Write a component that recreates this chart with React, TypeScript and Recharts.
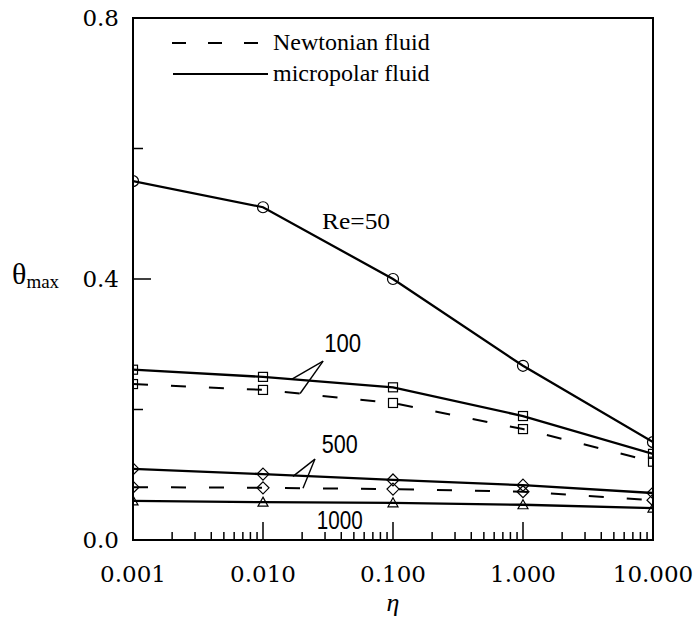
import React from 'react';
import {
  ComposedChart,
  Line,
  XAxis,
  YAxis,
  ReferenceArea,
  ReferenceLine,
  ReferenceDot,
  Legend
} from 'recharts';

// eta (log axis) and theta_max readings
const eta = [0.001, 0.01, 0.1, 1, 10];
const micro50 = [0.55, 0.51, 0.4, 0.267, 0.15];
const micro100 = [0.261, 0.25, 0.234, 0.19, 0.132];
const newt100 = [0.239, 0.23, 0.21, 0.17, 0.12];
const micro500 = [0.109, 0.101, 0.092, 0.084, 0.072];
const newt500 = [0.081, 0.08, 0.078, 0.074, 0.061];
const micro1000 = [0.06, 0.058, 0.057, 0.054, 0.049];

const xTicks = [0.001, 0.01, 0.1, 1, 10];
const xTickLabels = ['0.001', '0.010', '0.100', '1.000', '10.000'];
const yTicks = [0, 0.2, 0.4, 0.6, 0.8];
const yTickLabels = ['0.0', '', '0.4', '', '0.8'];

// curve labels and leader lines (data coordinates)
const curveLabels = [
  { text: 'Re=50', x: 0.052, y: 0.49, serif: true, len: 68 },
  { text: '100', x: 0.041, y: 0.302, serif: false, len: 37 },
  { text: '500', x: 0.039, y: 0.147, serif: false, len: 36 },
  { text: '1000', x: 0.039, y: 0.031, serif: false, len: 46 }
];
const leaders = [
  [{ x: 0.029, y: 0.274 }, { x: 0.0167, y: 0.2465 }],
  [{ x: 0.029, y: 0.274 }, { x: 0.0193, y: 0.2245 }],
  [{ x: 0.0251, y: 0.124 }, { x: 0.017, y: 0.0975 }],
  [{ x: 0.0251, y: 0.124 }, { x: 0.0203, y: 0.0793 }]
];

const data = eta.map((e, i) => ({
  eta: e,
  micro50: micro50[i],
  micro100: micro100[i],
  newt100: newt100[i],
  micro500: micro500[i],
  newt500: newt500[i],
  micro1000: micro1000[i]
}));

const minorX = xTicks.slice(0, -1).flatMap((d) => [2, 3, 4, 5, 6, 7, 8, 9].map((k) => d * k));
const allXTicks = [...xTicks, ...minorX];

const SERIF = '"Liberation Serif", "Times New Roman", serif';
const TICKFONT = '"DejaVu Serif", serif';
const SANS = '"Liberation Sans", Arial, sans-serif';

const XTick = (props: any) => {
  const { x, y, payload } = props;
  const i = xTicks.indexOf(payload.value);
  const major = i >= 0;
  return (
    <g>
      <line x1={x} x2={x} y1={y} y2={y - (major ? 18 : 8)} stroke="#000" strokeWidth={1.5} />
      {major && (
        <text x={x} y={y + 42} textAnchor="middle" fontFamily={TICKFONT} fontSize={23} fill="#000">
          {xTickLabels[i]}
        </text>
      )}
    </g>
  );
};

const YTick = (props: any) => {
  const { x, y, payload } = props;
  const i = yTicks.indexOf(payload.value);
  const label = yTickLabels[i];
  return (
    <g>
      <line x1={x} x2={x + (label ? 18 : 10)} y1={y} y2={y} stroke="#000" strokeWidth={1.5} />
      {label && (
        <text x={x - 14} y={y + 8} textAnchor="end" fontFamily={TICKFONT} fontSize={23} fill="#000">
          {label}
        </text>
      )}
    </g>
  );
};

const makeDot = (shape: string) => (p: any) => {
  const { cx, cy, index } = p;
  const s = { fill: 'none', stroke: '#000', strokeWidth: 1.2 };
  if (shape === 'circle') return <circle key={index} cx={cx} cy={cy} r={5.5} {...s} />;
  if (shape === 'square') return <rect key={index} x={cx - 4.5} y={cy - 4.5} width={9} height={9} {...s} />;
  if (shape === 'diamond')
    return <polygon key={index} points={`${cx},${cy - 6} ${cx + 6},${cy} ${cx},${cy + 6} ${cx - 6},${cy}`} {...s} />;
  return <polygon key={index} points={`${cx},${cy - 5} ${cx + 5},${cy + 4} ${cx - 5},${cy + 4}`} {...s} />;
};

const CurveLabel = (props: any) => {
  const { viewBox, text, serif, len } = props;
  return (
    <text
      x={viewBox.x}
      y={viewBox.y + 9}
      textAnchor="middle"
      textLength={len}
      lengthAdjust="spacingAndGlyphs"
      fontFamily={serif ? SERIF : SANS}
      fontSize={serif ? 24 : 26}
      fill="#000"
    >
      {text}
    </text>
  );
};

const ThetaLabel = () => (
  <text x={12} y={284} fontFamily={SERIF} fill="#000">
    <tspan fontSize={30}>θ</tspan>
    <tspan fontSize={19} dy={4}>max</tspan>
  </text>
);

const EtaLabel = () => (
  <text x={393} y={611} textAnchor="middle" fontFamily={SERIF} fontStyle="italic" fontSize={26} fill="#000">
    η
  </text>
);

const LegendBox = () => (
  <svg width={693} height={100} style={{ display: 'block' }}>
    <line x1={172} x2={265} y1={43} y2={43} stroke="#000" strokeWidth={2} strokeDasharray="14 22" />
    <text x={273} y={50} fontFamily={SERIF} fontSize={24} fill="#000">Newtonian fluid</text>
    <line x1={173} x2={268} y1={74} y2={74} stroke="#000" strokeWidth={2} />
    <text x={273} y={81} fontFamily={SERIF} fontSize={24} fill="#000">micropolar fluid</text>
  </svg>
);

export default function App() {
  return (
    <div style={{ position: 'absolute', left: 0, top: 0, width: 693, height: 623, background: '#fff' }}>
      <ComposedChart width={693} height={623} data={data} margin={{ top: 18, right: 40, bottom: 0, left: 0 }}>
        <XAxis
          dataKey="eta"
          type="number"
          scale="log"
          domain={[0.001, 10]}
          allowDataOverflow
          ticks={allXTicks}
          interval={0}
          tick={<XTick />}
          tickSize={0}
          tickMargin={0}
          height={83}
          axisLine={{ stroke: '#000', strokeWidth: 2 }}
          label={<EtaLabel />}
        />
        <YAxis
          type="number"
          domain={[0, 0.8]}
          allowDataOverflow
          ticks={yTicks}
          interval={0}
          tick={<YTick />}
          tickSize={0}
          tickMargin={0}
          width={133}
          axisLine={{ stroke: '#000', strokeWidth: 2 }}
          label={<ThetaLabel />}
        />
        <ReferenceArea x1={0.001} x2={10} y1={0} y2={0.8} fill="none" fillOpacity={0} stroke="#000" strokeWidth={2} />
        <Legend
          content={<LegendBox />}
          layout="vertical"
          align="center"
          verticalAlign="middle"
          wrapperStyle={{ left: 0, top: 0, width: 693, height: 100 }}
        />
        <Line dataKey="micro50" stroke="#000" strokeWidth={2.3} dot={makeDot('circle')} isAnimationActive={false} />
        <Line dataKey="micro100" stroke="#000" strokeWidth={2.3} dot={makeDot('square')} isAnimationActive={false} />
        <Line dataKey="newt100" stroke="#000" strokeWidth={2} strokeDasharray="15 23" dot={makeDot('square')} isAnimationActive={false} />
        <Line dataKey="micro500" stroke="#000" strokeWidth={2.3} dot={makeDot('diamond')} isAnimationActive={false} />
        <Line dataKey="newt500" stroke="#000" strokeWidth={2} strokeDasharray="15 23" dot={makeDot('diamond')} isAnimationActive={false} />
        <Line dataKey="micro1000" stroke="#000" strokeWidth={2.3} dot={makeDot('triangle')} isAnimationActive={false} />
        {leaders.map((seg, i) => (
          <ReferenceLine key={i} segment={seg} stroke="#000" strokeWidth={1.4} />
        ))}
        {curveLabels.map((c) => (
          <ReferenceDot
            key={c.text}
            x={c.x}
            y={c.y}
            r={0}
            fill="none"
            stroke="none"
            label={<CurveLabel text={c.text} serif={c.serif} len={c.len} />}
          />
        ))}
      </ComposedChart>
    </div>
  );
}
